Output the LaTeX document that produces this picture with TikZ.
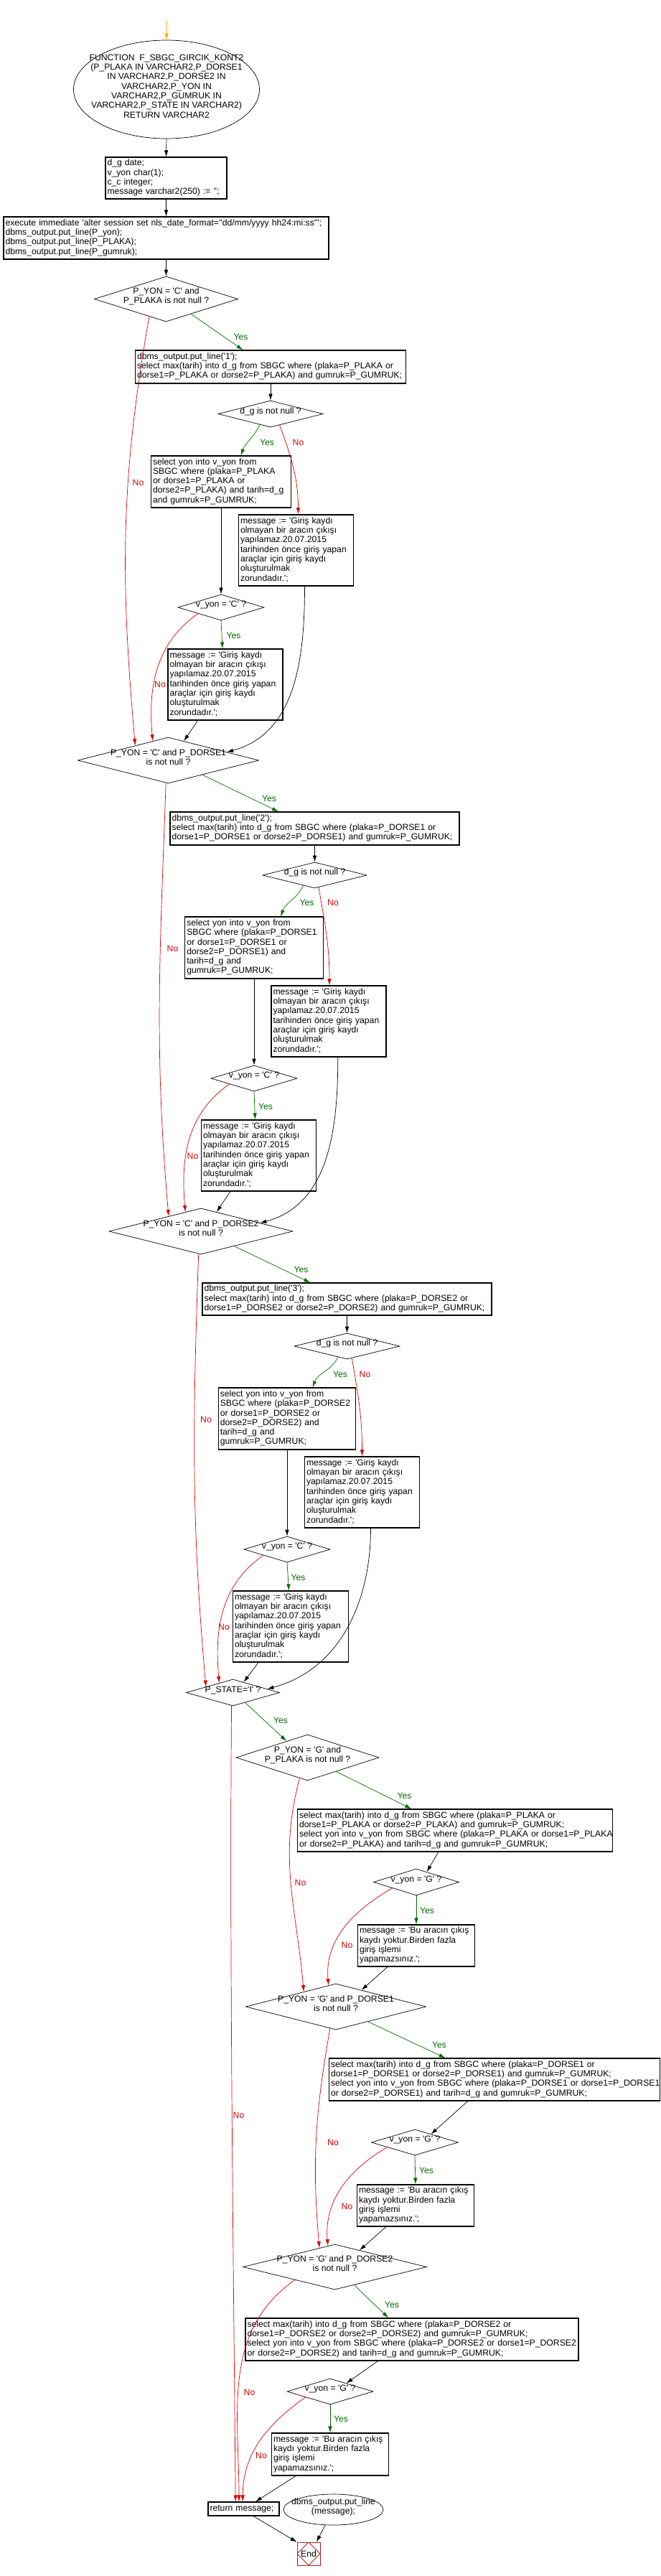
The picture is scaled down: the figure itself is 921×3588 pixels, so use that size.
\documentclass[tikz,border=0pt]{standalone}
\usepackage{fontspec}
\setmainfont{Liberation Sans}[Ligatures=TeXOff]
\usepackage{tikz}
\usetikzlibrary{shapes.geometric}
\usetikzlibrary{arrows.meta}
\usetikzlibrary{positioning}
\definecolor{yesgreen}{RGB}{0,105,0}
\definecolor{nored}{RGB}{215,0,0}
\definecolor{startorange}{RGB}{255,170,0}
\definecolor{endred}{RGB}{170,35,35}
\tikzstyle{line} = [draw, line width=0.7pt, -{Latex[length=9pt,width=5.5pt]}]
\tikzstyle{yesline} = [line, yesgreen]
\tikzstyle{noline} = [line, nored]
\newcommand{\ltext}[1]{\begin{tabular}{@{}l@{}}#1\end{tabular}}
\newcommand{\ztext}[1]{\smash{\makebox[0pt]{\begin{tabular}{@{}c@{}}#1\end{tabular}}}}
\newcommand{\girismsg}{\ltext{message := 'Giriş kaydı\\olmayan bir aracın çıkışı\\yapılamaz.20.07.2015\\tarihinden önce giriş yapan\\araçlar için giriş kaydı\\oluşturulmak\\zorundadır.';}}
\newcommand{\bumsg}{\ltext{message := 'Bu aracın çıkış\\kaydı yoktur.Birden fazla\\giriş işlemi\\yapamazsınız.';}}

\begin{document}
\begin{tikzpicture}[x=1pt, y=-1pt,
        every node/.style={font=\fontsize{12.2}{13.3}\selectfont},
        proc/.style={draw, rectangle, line width=1.1pt, align=left, inner xsep=2.5pt, inner ysep=1pt},
        decision/.style={draw, diamond, line width=0.7pt, inner sep=0pt},
        term/.style={draw, ellipse, line width=0.7pt, inner sep=0pt},
        endbox/.style={draw=endred, line width=0.8pt, inner sep=0pt, minimum width=32pt, minimum height=32pt,
            path picture={\draw [endred, line width=0.8pt] (path picture bounding box.north) -- (path picture bounding box.east)
                -- (path picture bounding box.south) -- (path picture bounding box.west) -- cycle;}},
        yeslabel/.style={text=yesgreen, inner sep=0pt},
        nolabel/.style={text=nored, inner sep=0pt}]
        \useasboundingbox (0,0) rectangle (921,3588);
        %% Vertices
        \coordinate (in0) at (232,29);
        \node [term, minimum width=259pt, minimum height=137pt] (fn) at (232,124.5)
            {\ztext{FUNCTION\ \ F\_SBGC\_GIRCIK\_KONT2\\(P\_PLAKA IN VARCHAR2,P\_DORSE1\\IN VARCHAR2,P\_DORSE2 IN\\VARCHAR2,P\_YON IN\\VARCHAR2,P\_GUMRUK IN\\VARCHAR2,P\_STATE IN VARCHAR2)\\RETURN VARCHAR2}};
        \node [proc, text width=164pt, minimum height=58pt] (decl) at (231.5,248)
            {\ltext{d\_g date;\\v\_yon char(1);\\c\_c integer;\\message varchar2(250) := '';}};
        \node [proc, text width=448pt, minimum height=59pt] (exec) at (231.5,331.5)
            {\ltext{execute immediate 'alter session set nls\_date\_format=''dd/mm/yyyy hh24:mi:ss''';\\dbms\_output.put\_line(P\_yon);\\dbms\_output.put\_line(P\_PLAKA);\\dbms\_output.put\_line(P\_gumruk);}};
        \node [decision, minimum width=200pt, minimum height=63pt] (qc1) at (231.5,416.5)
            {\ztext{P\_YON = 'C' and\\P\_PLAKA is not null ?}};
        \node [proc, text width=372pt, minimum height=46pt] (put1) at (377,511)
            {\ltext{dbms\_output.put\_line('1');\\select max(tarih) into d\_g from SBGC where (plaka=P\_PLAKA or\\dorse1=P\_PLAKA or dorse2=P\_PLAKA) and gumruk=P\_GUMRUK;}};
        \node [decision, minimum width=146pt, minimum height=37pt] (dg1) at (377,576.5) {\ztext{d\_g is not null ?}};
        \node [proc, text width=190pt, minimum height=72pt] (sel1) at (308,671)
            {\ltext{select yon into v\_yon from\\SBGC where (plaka=P\_PLAKA\\or dorse1=P\_PLAKA or\\dorse2=P\_PLAKA) and tarih=d\_g\\and gumruk=P\_GUMRUK;}};
        \node [proc, text width=155pt, minimum height=99pt] (msg1a) at (412.5,766.5) {\girismsg};
        \node [decision, minimum width=120pt, minimum height=36pt] (vy1) at (308,846) {\ztext{v\_yon = 'C' ?}};
        \node [proc, text width=155pt, minimum height=99pt] (msg1b) at (314,953.5) {\girismsg};
        \node [decision, minimum width=252pt, minimum height=64pt] (qc2) at (234.5,1059)
            {\ztext{P\_YON = 'C' and P\_DORSE1\\is not null ?}};
        \node [proc, text width=398pt, minimum height=46pt] (put2) at (438.5,1154)
            {\ltext{dbms\_output.put\_line('2');\\select max(tarih) into d\_g from SBGC where (plaka=P\_DORSE1 or\\dorse1=P\_DORSE1 or dorse2=P\_DORSE1) and gumruk=P\_GUMRUK;}};
        \node [decision, minimum width=145pt, minimum height=36pt] (dg2) at (438.5,1219) {\ztext{d\_g is not null ?}};
        \node [proc, text width=187.5pt, minimum height=86pt] (sel2) at (354,1320)
            {\ltext{select yon into v\_yon from\\SBGC where (plaka=P\_DORSE1\\or dorse1=P\_DORSE1 or\\dorse2=P\_DORSE1) and\\tarih=d\_g and\\gumruk=P\_GUMRUK;}};
        \node [proc, text width=155pt, minimum height=99pt] (msg2a) at (458,1422.5) {\girismsg};
        \node [decision, minimum width=120pt, minimum height=36pt] (vy2) at (354,1502) {\ztext{v\_yon = 'C' ?}};
        \node [proc, text width=155pt, minimum height=99pt] (msg2b) at (360.5,1609.5) {\girismsg};
        \node [decision, minimum width=256pt, minimum height=64pt] (qc3) at (280,1715)
            {\ztext{P\_YON = 'C' and P\_DORSE2\\is not null ?}};
        \node [proc, text width=398pt, minimum height=45pt] (put3) at (483.5,1809.5)
            {\ltext{dbms\_output.put\_line('3');\\select max(tarih) into d\_g from SBGC where (plaka=P\_DORSE2 or\\dorse1=P\_DORSE2 or dorse2=P\_DORSE2) and gumruk=P\_GUMRUK;}};
        \node [decision, minimum width=147pt, minimum height=36pt] (dg3) at (483.5,1875) {\ztext{d\_g is not null ?}};
        \node [proc, text width=186.5pt, minimum height=86pt] (sel3) at (400,1976)
            {\ltext{select yon into v\_yon from\\SBGC where (plaka=P\_DORSE2\\or dorse1=P\_DORSE2 or\\dorse2=P\_DORSE2) and\\tarih=d\_g and\\gumruk=P\_GUMRUK;}};
        \node [proc, text width=155pt, minimum height=99pt] (msg3a) at (504.5,2078.5) {\girismsg};
        \node [decision, minimum width=120pt, minimum height=36pt] (vy3) at (400,2158) {\ztext{v\_yon = 'C' ?}};
        \node [proc, text width=156pt, minimum height=99pt] (msg3b) at (405,2265.5) {\girismsg};
        \node [decision, minimum width=130pt, minimum height=37pt] (st) at (324.5,2357.5) {\ztext{P\_STATE='I' ?}};
        \node [decision, minimum width=199pt, minimum height=64pt] (qg1) at (428.5,2448)
            {\ztext{P\_YON = 'G' and\\P\_PLAKA is not null ?}};
        \node [proc, text width=434pt, minimum height=59pt] (sel4) at (634,2549.5)
            {\ltext{select max(tarih) into d\_g from SBGC where (plaka=P\_PLAKA or\\dorse1=P\_PLAKA or dorse2=P\_PLAKA) and gumruk=P\_GUMRUK;\\select yon into v\_yon from SBGC where (plaka=P\_PLAKA or dorse1=P\_PLAKA\\or dorse2=P\_PLAKA) and tarih=d\_g and gumruk=P\_GUMRUK;}};
        \node [decision, minimum width=119pt, minimum height=37pt] (vg1) at (580,2621.5) {\ztext{v\_yon = 'G' ?}};
        \node [proc, text width=158pt, minimum height=58pt] (msg4) at (580,2710) {\bumsg};
        \node [decision, minimum width=251pt, minimum height=64pt] (qg2) at (468,2795)
            {\ztext{P\_YON = 'G' and P\_DORSE1\\is not null ?}};
        \node [proc, text width=456pt, minimum height=59pt] (sel5) at (689,2896.5)
            {\ltext{select max(tarih) into d\_g from SBGC where (plaka=P\_DORSE1 or\\dorse1=P\_DORSE1 or dorse2=P\_DORSE1) and gumruk=P\_GUMRUK;\\select yon into v\_yon from SBGC where (plaka=P\_DORSE1 or dorse1=P\_DORSE1\\or dorse2=P\_DORSE1) and tarih=d\_g and gumruk=P\_GUMRUK;}};
        \node [decision, minimum width=121pt, minimum height=36pt] (vg2) at (578,2984) {\ztext{v\_yon = 'G' ?}};
        \node [proc, text width=158pt, minimum height=58pt] (msg5) at (579,3072) {\bumsg};
        \node [decision, minimum width=256pt, minimum height=63pt] (qg3) at (466.5,3157.5)
            {\ztext{P\_YON = 'G' and P\_DORSE2\\is not null ?}};
        \node [proc, text width=459pt, minimum height=59pt] (sel6) at (574,3258.5)
            {\ltext{select max(tarih) into d\_g from SBGC where (plaka=P\_DORSE2 or\\dorse1=P\_DORSE2 or dorse2=P\_DORSE2) and gumruk=P\_GUMRUK;\\select yon into v\_yon from SBGC where (plaka=P\_DORSE2 or dorse1=P\_DORSE2\\or dorse2=P\_DORSE2) and tarih=d\_g and gumruk=P\_GUMRUK;}};
        \node [decision, minimum width=120pt, minimum height=36pt] (vg3) at (460,3331) {\ztext{v\_yon = 'G' ?}};
        \node [proc, text width=158pt, minimum height=59pt] (msg6) at (460,3418.5) {\bumsg};
        \node [proc, text width=94pt, minimum height=19pt] (ret) at (339.5,3494.5) {\ltext{return message;}};
        \node [term, minimum width=139pt, minimum height=43pt] (exc) at (464.5,3495.5) {\ztext{dbms\_output.put\_line\\(message);}};
        \node [endbox] (fin) at (430,3557) {End};
        %% Arcs
        \path [line, startorange] (in0) -- (fn.north);
        \path [line] (fn.south) -- (decl.north);
        \path [line] (decl.south) -- (exec.north);
        \path [line] (exec.south) -- (qc1.north);
        \path [yesline] (qc1.329) -- ([xshift=-38.5pt]put1.north) node [yeslabel] (y1) at (335.5,469) {Yes};
        \path [noline] (qc1.226) to [out=260, in=95] (qc2.156) node [nolabel] (n1) at (192.5,672) {No};
        \path [line] (put1.south) -- (dg1.north);
        \path [yesline] (dg1.225) to [out=245, in=70] ([xshift=27.5pt]sel1.north) node [yeslabel] (y2) at (372,616) {Yes};
        \path [noline] (dg1.309) to [out=-70, in=90] ([xshift=3pt]msg1a.north) node [nolabel] (n2) at (415.5,616) {No};
        \path [line] (sel1.south) -- (vy1.north);
        \path [yesline] (vy1.south) -- ([xshift=-4pt]msg1b.north) node [yeslabel] (y3) at (325.5,885) {Yes};
        \path [noline] (vy1.195) to [out=215, in=95] (qc2.129) node [nolabel] (n3) at (223,953) {No};
        \path [line] ([xshift=-38.5pt]msg1b.south) -- (qc2.51);
        \path [line] ([xshift=12pt]msg1a.south) to [out=-90, in=15] (qc2.8);
        \path [yesline] (qc2.337) -- ([xshift=-50.5pt]put2.north) node [yeslabel] (y4) at (375,1112) {Yes};
        \path [noline] (qc2.264) to [out=268, in=95] (qc3.155) node [nolabel] (n4) at (240.5,1321) {No};
        \path [line] (put2.south) -- (dg2.north);
        \path [yesline] (dg2.222) to [out=245, in=70] ([xshift=37pt]sel2.north) node [yeslabel] (y5) at (427.5,1257) {Yes};
        \path [noline] (dg2.288) to [out=-80, in=90] ([xshift=1pt]msg2a.north) node [nolabel] (n5) at (464,1257) {No};
        \path [line] (sel2.south) -- (vy2.north);
        \path [yesline] (vy2.south) -- ([xshift=-5pt]msg2b.north) node [yeslabel] (y6) at (370,1541) {Yes};
        \path [noline] (vy2.193) to [out=215, in=95] (qc3.129) node [nolabel] (n6) at (268.5,1610) {No};
        \path [line] ([xshift=-39.5pt]msg2b.south) -- (qc3.51);
        \path [line] ([xshift=12.8pt]msg2a.south) to [out=-90, in=15] (qc3.8);
        \path [yesline] (qc3.336) -- ([xshift=-51.3pt]put3.north) node [yeslabel] (y7) at (419.5,1768) {Yes};
        \path [noline] (qc3.264) to [out=268, in=95] (st.168) node [nolabel] (n7) at (287,1977) {No};
        \path [line] (put3.south) -- (dg3.north);
        \path [yesline] (dg3.230) to [out=245, in=70] ([xshift=35.5pt]sel3.north) node [yeslabel] (y8) at (474,1914) {Yes};
        \path [noline] (dg3.292) to [out=-80, in=90] (msg3a.north) node [nolabel] (n8) at (508.5,1914) {No};
        \path [line] (sel3.south) -- (vy3.north);
        \path [yesline] (vy3.south) -- ([xshift=-2.5pt]msg3b.north) node [yeslabel] (y9) at (415.5,2197) {Yes};
        \path [noline] (vy3.194) to [out=215, in=95] (st.145) node [nolabel] (n9) at (312,2266) {No};
        \path [line] ([xshift=-45pt]msg3b.south) -- (st.44);
        \path [line] ([xshift=12pt]msg3a.south) to [out=-90, in=15] (st.6);
        \path [yesline] (st.321) -- (qg1.142) node [yeslabel] (y10) at (391,2396) {Yes};
        \path [noline] (st.264) .. controls +(-3,350) and +(-3,-350) .. ([xshift=-11.3pt]ret.north) node [nolabel] (n10) at (332.5,2946) {No};
        \path [yesline] (qg1.334) -- ([xshift=-60.7pt]sel4.north) node [yeslabel] (y11) at (563.5,2501) {Yes};
        \path [noline] (qg1.249) to [out=255, in=95] (qg2.155) node [nolabel] (n11) at (418.5,2622) {No};
        \path [line] ([xshift=-23.2pt]sel4.south) -- (vg1.44);
        \path [yesline] (vg1.south) -- (msg4.north) node [yeslabel] (y12) at (595,2661) {Yes};
        \path [noline] (vg1.194) to [out=210, in=95] (qg2.109) node [nolabel] (n12) at (483.5,2709) {No};
        \path [line] ([xshift=-40pt]msg4.south) -- (qg2.33);
        \path [yesline] (qg2.335) -- ([xshift=-68.4pt]sel5.north) node [yeslabel] (y13) at (612,2848) {Yes};
        \path [noline] (qg2.255) to [out=260, in=95] (qg3.129) node [nolabel] (n13) at (464,2984) {No};
        \path [line] ([xshift=-37.2pt]sel5.south) -- (vg2.27);
        \path [yesline] (vg2.south) -- (msg5.north) node [yeslabel] (y14) at (594,3023) {Yes};
        \path [noline] (vg2.190) to [out=210, in=95] (qg3.108) node [nolabel] (n14) at (483.5,3073) {No};
        \path [line] ([xshift=-41pt]msg5.south) -- (qg3.34);
        \path [yesline] (qg3.317) -- ([xshift=-32.8pt]sel6.north) node [yeslabel] (y15) at (546,3210) {Yes};
        \path [noline] (qg3.198) to [out=215, in=90] ([xshift=-6.5pt]ret.north) node [nolabel] (n15) at (347.5,3332) {No};
        \path [line] ([xshift=-47.5pt]sel6.south) -- (vg3.27);
        \path [yesline] (vg3.south) -- (msg6.north) node [yeslabel] (y16) at (475,3369) {Yes};
        \path [noline] (vg3.193) to [out=215, in=90] ([xshift=-1.3pt]ret.north) node [nolabel] (n16) at (364,3420) {No};
        \path [line] ([xshift=-47.7pt]msg6.south) -- ([xshift=16.4pt]ret.north);
        \path [line] ([xshift=13.5pt]ret.south) -- (fin.north west);
        \path [line] (exc.242) -- ([xshift=11pt]fin.north);
\end{tikzpicture}
\end{document}
